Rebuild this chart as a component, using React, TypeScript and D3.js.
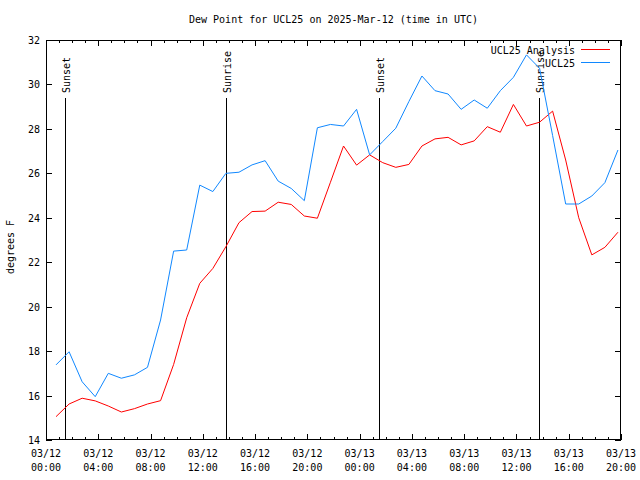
import React from "react";
import * as d3 from "d3";

const title = "Dew Point for UCL25 on 2025-Mar-12 (time in UTC)";
const yLabel = "degrees F";
const seriesNames = ["UCL25 Analysis", "UCL25"];
const seriesColors = ["#ff0000", "#1088ff"];

const times = [
  "2025-03-12T00:46", "2025-03-12T01:46", "2025-03-12T02:46", "2025-03-12T03:46",
  "2025-03-12T04:46", "2025-03-12T05:46", "2025-03-12T06:46", "2025-03-12T07:46",
  "2025-03-12T08:46", "2025-03-12T09:46", "2025-03-12T10:46", "2025-03-12T11:46",
  "2025-03-12T12:46", "2025-03-12T13:46", "2025-03-12T14:46", "2025-03-12T15:46",
  "2025-03-12T16:46", "2025-03-12T17:46", "2025-03-12T18:46", "2025-03-12T19:46",
  "2025-03-12T20:46", "2025-03-12T21:46", "2025-03-12T22:46", "2025-03-12T23:46",
  "2025-03-13T00:46", "2025-03-13T01:46", "2025-03-13T02:46", "2025-03-13T03:46",
  "2025-03-13T04:46", "2025-03-13T05:46", "2025-03-13T06:46", "2025-03-13T07:46",
  "2025-03-13T08:46", "2025-03-13T09:46", "2025-03-13T10:46", "2025-03-13T11:46",
  "2025-03-13T12:46", "2025-03-13T13:46", "2025-03-13T14:46", "2025-03-13T15:46",
  "2025-03-13T16:46", "2025-03-13T17:46", "2025-03-13T18:46", "2025-03-13T19:46",
];

const analysis = [
  15.05, 15.62, 15.88, 15.76, 15.53, 15.26, 15.41, 15.62,
  15.77, 17.4, 19.5, 21.05, 21.72, 22.7, 23.78, 24.28,
  24.3, 24.7, 24.6, 24.08, 23.98, 25.6, 27.23, 26.37,
  26.83, 26.48, 26.27, 26.4, 27.23, 27.55, 27.62, 27.28,
  27.46, 28.1, 27.85, 29.1, 28.13, 28.3, 28.8, 26.6,
  24.0, 22.33, 22.67, 23.35,
];

const observed = [
  17.38, 17.97, 16.62, 15.95, 17.0, 16.78, 16.93, 17.27,
  19.4, 22.5, 22.55, 25.47, 25.18, 26.0, 26.05, 26.38,
  26.57, 25.65, 25.32, 24.77, 28.05, 28.2, 28.13, 28.88,
  26.83, 27.43, 28.03, 29.23, 30.38, 29.72, 29.57, 28.88,
  29.3, 28.93, 29.72, 30.32, 31.33, 30.73, 27.7, 24.62,
  24.62, 24.98, 25.58, 27.05,
];

const sunLabels = ["Sunset", "Sunrise", "Sunset", "Sunrise"];
const sunTimes = ["2025-03-12T01:27", "2025-03-12T13:46", "2025-03-13T01:28", "2025-03-13T13:44"];

const xDomain = ["2025-03-12T00:00", "2025-03-13T20:00"];
const yDomain = [14, 32];
const yTicks = [14, 16, 18, 20, 22, 24, 26, 28, 30, 32];

const W = 640, H = 480;
const L = 46, R = 621, T = 40, B = 440;
const FONT = "'DejaVu Sans Mono', 'Liberation Mono', monospace";

const parse = d3.utcParse("%Y-%m-%dT%H:%M");

export default function App() {
  const x = d3.scaleUtc().domain(xDomain.map((s) => parse(s) as Date)).range([L, R]);
  const y = d3.scaleLinear().domain(yDomain).range([B, T]);
  const dates = times.map((s) => parse(s) as Date);
  const line = d3
    .line<number>()
    .x((_, i) => x(dates[i]))
    .y((v) => y(v));
  const hourTicks = d3.utcHour.range(x.domain()[0], d3.utcHour.offset(x.domain()[1], 1));
  const fmtDay = d3.utcFormat("%m/%d");
  const fmtHour = d3.utcFormat("%H:%M");
  const series = [analysis, observed];

  return (
    <svg
      width={W}
      height={H}
      style={{ position: "absolute", left: 0, top: 0, background: "#fff" }}
      fontFamily={FONT}
      fontSize={10}
    >
      <rect x={0} y={0} width={W} height={H} fill="#fff" />
      <text x={(L + R) / 2} y={23} textAnchor="middle">{title}</text>
      <text transform={`translate(14,247) rotate(-90)`} textAnchor="middle">{yLabel}</text>

      {/* y ticks */}
      {yTicks.map((t) => (
        <g key={"y" + t}>
          <line x1={L} x2={L + 6} y1={Math.round(y(t)) + 0.5} y2={Math.round(y(t)) + 0.5} stroke="#000" />
          <line x1={R - 6} x2={R} y1={Math.round(y(t)) + 0.5} y2={Math.round(y(t)) + 0.5} stroke="#000" />
          <text x={40} y={y(t) + 4} textAnchor="end">{t}</text>
        </g>
      ))}

      {/* x ticks */}
      {hourTicks.map((d, i) => {
        const xx = Math.round(x(d)) + 0.5;
        const major = d.getUTCHours() % 4 === 0;
        const len = major ? 6 : 3;
        return (
          <g key={"x" + i}>
            <line x1={xx} x2={xx} y1={B} y2={B - len} stroke="#000" />
            <line x1={xx} x2={xx} y1={T} y2={T + len} stroke="#000" />
            {major && (
              <>
                <text x={x(d)} y={457} textAnchor="middle">{fmtDay(d)}</text>
                <text x={x(d)} y={471} textAnchor="middle">{fmtHour(d)}</text>
              </>
            )}
          </g>
        );
      })}

      {/* sun events */}
      {sunTimes.map((s, i) => {
        const xx = Math.round(x(parse(s) as Date)) + 0.5;
        return (
          <g key={"sun" + i}>
            <line x1={xx} x2={xx} y1={B} y2={98} stroke="#000" />
            <text transform={`translate(${xx + 4.5},93) rotate(-90)`} textAnchor="start">{sunLabels[i]}</text>
          </g>
        );
      })}

      {/* series */}
      {series.map((vals, k) => (
        <path key={"s" + k} d={line(vals) || ""} fill="none" stroke={seriesColors[k]} strokeWidth={1} />
      ))}

      {/* legend */}
      {seriesNames.map((n, k) => (
        <g key={"lg" + k}>
          <text x={575} y={54 + k * 13} textAnchor="end">{n}</text>
          <line x1={581} x2={610} y1={49.5 + k * 13} y2={49.5 + k * 13} stroke={seriesColors[k]} />
        </g>
      ))}

      {/* frame */}
      <rect x={L + 0.5} y={T + 0.5} width={R - L - 1} height={B - T - 1} fill="none" stroke="#000" />
    </svg>
  );
}
